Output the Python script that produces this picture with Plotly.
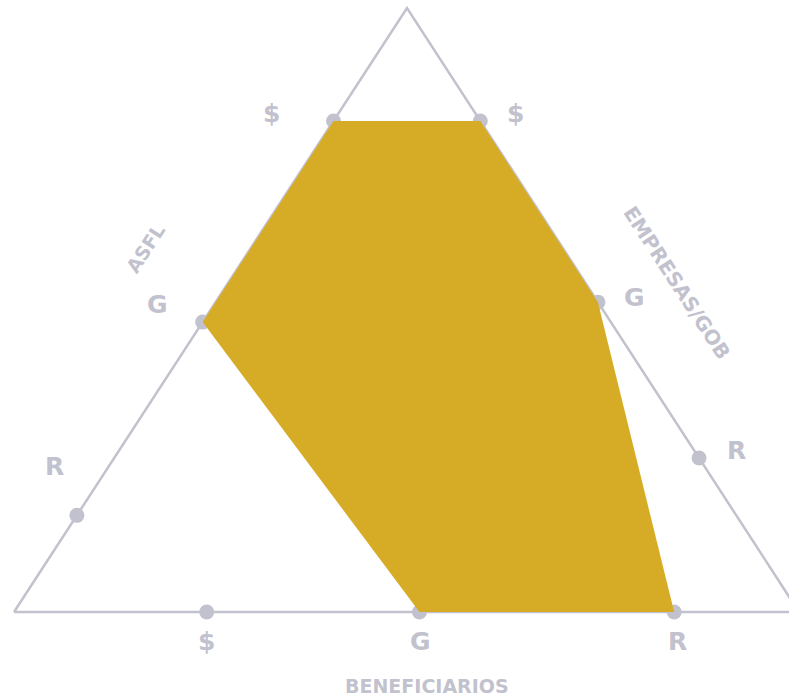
import plotly.graph_objects as go

# ---- data ----
axis_names = ["ASFL", "EMPRESAS/GOB", "BENEFICIARIOS"]
level_labels = ["$", "G", "R"]
# position of each level along its edge (fraction of the edge length)
asfl_levels = [0.813, 0.48, 0.16]        # measured from bottom-left corner up to apex
empresas_levels = [0.187, 0.487, 0.745]  # measured from apex down to bottom-right
benef_levels = [0.2455, 0.5165, 0.841]   # measured from bottom-left to bottom-right
# filled region: (edge, level) pairs in drawing order
region_edges = ["ASFL", "EMPRESAS/GOB", "EMPRESAS/GOB", "BENEFICIARIOS", "BENEFICIARIOS", "ASFL"]
region_levels = ["$", "$", "G", "R", "G", "G"]

# ---- geometry of the triangle (plot units) ----
BL = (14, 612)
TOP = (407, 8)
BR = (799, 612)
edges = {
    "ASFL": (BL, TOP, asfl_levels),
    "EMPRESAS/GOB": (TOP, BR, empresas_levels),
    "BENEFICIARIOS": (BL, BR, benef_levels),
}

def pos(edge, lvl):
    a, b, lv = edges[edge]
    t = lv[level_labels.index(lvl)]
    return a[0] + t * (b[0] - a[0]), a[1] + t * (b[1] - a[1])

LINE = "#C2C2CE"
TEXT = "#C2C2CE"
FILL = "#D6AC27"
FONT = "DejaVu Sans"

fig = go.Figure()
# triangle outline
fig.add_trace(go.Scatter(x=[BL[0], TOP[0], BR[0], BL[0]], y=[BL[1], TOP[1], BR[1], BL[1]],
                         mode="lines", line=dict(color=LINE, width=2.5), hoverinfo="skip"))
# dots
for name in axis_names:
    xs, ys = zip(*[pos(name, l) for l in level_labels])
    fig.add_trace(go.Scatter(x=xs, y=ys, mode="markers",
                             marker=dict(size=15, color=LINE), hoverinfo="skip"))
# filled region
rx, ry = zip(*[pos(e, l) for e, l in zip(region_edges, region_levels)])
fig.add_trace(go.Scatter(x=list(rx) + [rx[0]], y=list(ry) + [ry[0]], mode="lines",
                         fill="toself", fillcolor=FILL, line=dict(color=FILL, width=0),
                         hoverinfo="skip"))

# level labels (pixel offsets from each dot)
offsets = {
    "ASFL": [(-62, -7), (-45, -18), (-22, -49)],
    "EMPRESAS/GOB": [(35, -7), (37, -5), (37, -7)],
    "BENEFICIARIOS": [(0, 29), (1, 29), (3, 29)],
}
for name in axis_names:
    for i, l in enumerate(level_labels):
        x, y = pos(name, l)
        dx, dy = offsets[name][i]
        fig.add_annotation(x=x, y=y, text=l, showarrow=False, xshift=dx, yshift=-dy,
                           font=dict(family=FONT, size=25, color=TEXT, weight="bold"))

# axis titles
fig.add_annotation(x=145, y=249, text=axis_names[0], showarrow=False, textangle=-57,
                   font=dict(family=FONT, size=19, color=TEXT, weight="bold"))
fig.add_annotation(x=677, y=283, text=axis_names[1], showarrow=False, textangle=57,
                   font=dict(family=FONT, size=20, color=TEXT, weight="bold"))
fig.add_annotation(x=427, y=686, text=axis_names[2], showarrow=False,
                   font=dict(family=FONT, size=19, color=TEXT, weight="bold"))

fig.update_layout(width=789, height=699, margin=dict(l=0, r=0, t=0, b=0),
                  paper_bgcolor="white", plot_bgcolor="white", showlegend=False,
                  xaxis=dict(range=[0, 789], visible=False, fixedrange=True),
                  yaxis=dict(range=[699, 0], visible=False, fixedrange=True))
fig.write_html("out.html", config={"displayModeBar": False},
               post_script="document.body.style.margin='0';document.body.style.overflow='hidden';")
